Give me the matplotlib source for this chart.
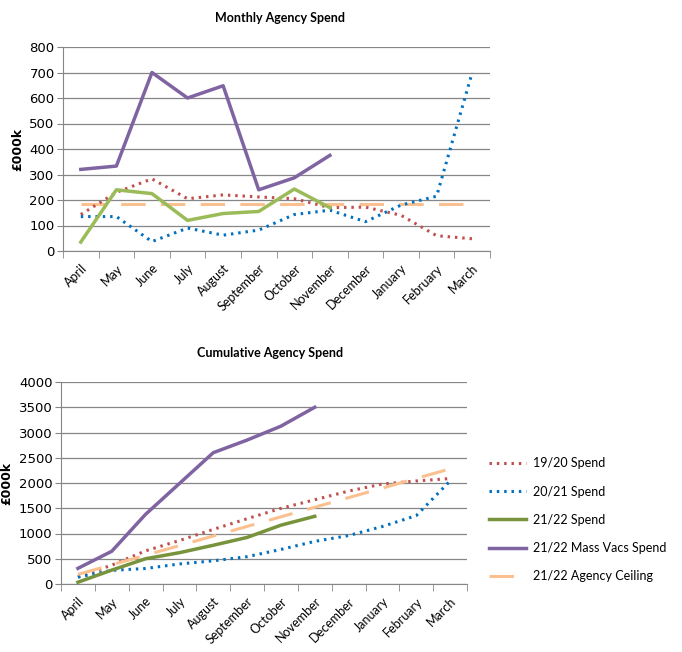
import numpy as np
import matplotlib as mpl
mpl.use('Agg')
import matplotlib.pyplot as plt

months = ['April', 'May', 'June', 'July', 'August', 'September', 'October',
          'November', 'December', 'January', 'February', 'March']

# monthly spend, £000k
spend_1920 = [143, 230, 283, 205, 220, 212, 205, 170, 172, 140, 60, 48]
spend_2021 = [135, 135, 37, 90, 62, 82, 143, 160, 115, 180, 215, 700]
spend_2122 = [35, 240, 225, 120, 147, 155, 243, 170]
mass_vacs = [320, 333, 700, 600, 648, 240, 287, 375]
ceiling = [186] * 12

# cumulative spend, £000k
cum_1920 = [143, 373, 656, 861, 1081, 1293, 1498, 1668, 1840, 1980, 2040, 2088]
cum_2021 = [135, 270, 307, 397, 459, 541, 684, 844, 959, 1139, 1354, 2040]
cum_2122 = [35, 275, 500, 620, 767, 922, 1165, 1340]
cum_mass_vacs = [310, 648, 1380, 1990, 2600, 2850, 3125, 3500]
cum_ceiling = [190, 380, 570, 760, 950, 1140, 1330, 1520, 1710, 1900, 2090, 2280]

RED = '#C0504D'
BLUE = '#0070C0'
GREEN_LIGHT = '#9BBB59'
GREEN = '#77933C'
PURPLE = '#8064A2'
PEACH = '#FAC090'

W, H = 682, 652
fig = plt.figure(figsize=(W / 100, H / 100), dpi=100)


def box(l, t, r, b):
    return [l / W, 1 - b / H, (r - l) / W, (b - t) / H]


def style_axes(ax, ymax, ystep):
    ax.set_xlim(-0.5, 11.5)
    ax.set_ylim(0, ymax)
    ax.set_yticks(np.arange(0, ymax + 1, ystep))
    ax.set_xticks(range(12))
    ax.set_xticklabels(months, rotation=45, ha='right', rotation_mode='anchor',
                       fontsize=9, family='Lato')
    ax.set_xticks(np.arange(-0.5, 12, 1), minor=True)
    ax.tick_params(axis='x', which='major', length=0, pad=8)
    ax.tick_params(axis='x', which='minor', length=5, color='#868686')
    ax.tick_params(axis='y', length=4, color='#868686', labelsize=9.5, pad=2)
    ax.grid(axis='y', color='#868686', lw=0.9)
    ax.set_axisbelow(True)
    for s in ['top', 'right']:
        ax.spines[s].set_visible(False)
    for s in ['left', 'bottom']:
        ax.spines[s].set_color('#868686')
    ax.set_ylabel('£000k', fontsize=9, fontweight='bold', labelpad=4)


x12 = np.arange(12)
x8 = np.arange(8)

# monthly chart
ax1 = fig.add_axes(box(63, 47, 490, 251))
ax1.plot(x12, ceiling, color=PEACH, lw=2.2, dashes=(8, 5))
ax1.plot(x12, spend_1920, color=RED, lw=2.2, ls=(0, (0.8, 1.6)))
ax1.plot(x12, spend_2021, color=BLUE, lw=2.2, ls=(0, (0.8, 1.6)))
ax1.plot(x8, spend_2122, color=GREEN_LIGHT, lw=2.5)
ax1.plot(x8, mass_vacs, color=PURPLE, lw=2.5)
style_axes(ax1, 800, 100)
fig.text(280 / W, 1 - 18 / H, 'Monthly Agency Spend', ha='center', va='center',
         fontsize=9, fontweight='bold', family='Lato')

# cumulative chart
ax2 = fig.add_axes(box(61, 382, 467, 584))
ax2.plot(x12, cum_1920, color=RED, lw=2.2, ls=(0, (0.8, 1.6)), label='19/20 Spend')
ax2.plot(x12, cum_2021, color=BLUE, lw=2.2, ls=(0, (0.8, 1.6)), label='20/21 Spend')
ax2.plot(x8, cum_2122, color=GREEN, lw=2.5, label='21/22 Spend')
ax2.plot(x8, cum_mass_vacs, color=PURPLE, lw=2.5, label='21/22 Mass Vacs Spend')
ax2.plot(x12, cum_ceiling, color=PEACH, lw=2.2, dashes=(8, 5), label='21/22 Agency Ceiling')
style_axes(ax2, 4000, 500)
fig.text(270 / W, 1 - 353 / H, 'Cumulative Agency Spend', ha='center', va='center',
         fontsize=9, fontweight='bold', family='Lato')

leg = ax2.legend(loc='upper left', bbox_to_anchor=(478 / W, 1 - 446 / H),
                 bbox_transform=fig.transFigure, frameon=False,
                 prop={'family': 'Lato', 'size': 9}, handlelength=2.9,
                 labelspacing=1.3, handletextpad=0.6)

fig.savefig('out.png', dpi=100)
